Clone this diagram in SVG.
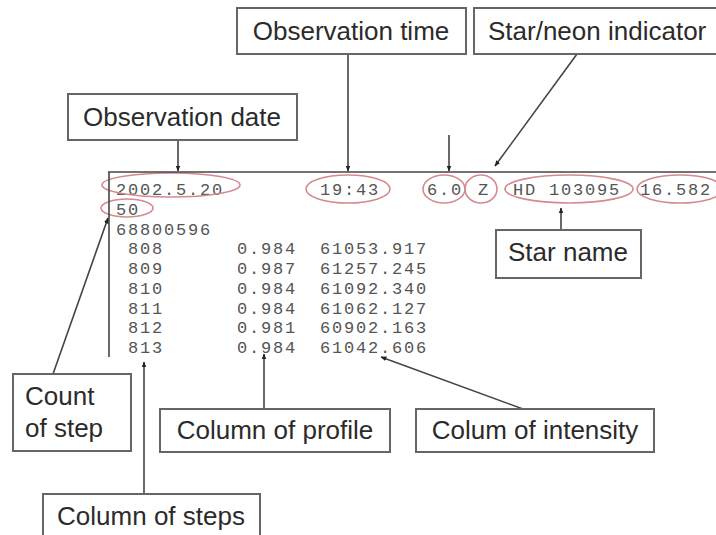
<svg xmlns="http://www.w3.org/2000/svg" width="716" height="535" viewBox="0 0 716 535">
<style>
.box{fill:#fff;stroke:#666;stroke-width:2}
.lbl{font-family:"Liberation Sans",Arial,sans-serif;font-size:26px;fill:#2b2b2b}
.mono{font-family:"Liberation Mono","Courier New",monospace;font-size:17px;letter-spacing:1.8px;fill:#555}
.ell{fill:none;stroke:#d48a8f;stroke-width:1.6}
.con{stroke:#444;stroke-width:1.6;fill:none}
</style>
<defs>
<marker id="ah" viewBox="0 0 10 10" refX="9" refY="5" markerWidth="6" markerHeight="6" orient="auto" markerUnits="userSpaceOnUse">
<path d="M0,1 L10,5 L0,9 z" fill="#222"/>
</marker>
</defs>
<rect width="716" height="535" fill="#fff"/>
<g id="data">
<text class="mono" x="116" y="195">2002.5.20</text>
<text class="mono" x="320" y="195">19:43</text>
<text class="mono" x="427" y="195">6.0</text>
<text class="mono" x="478" y="195">Z</text>
<text class="mono" x="513" y="195">HD 103095</text>
<text class="mono" x="640" y="195">16.582</text>
<text class="mono" x="116" y="214.75">50</text>
<text class="mono" x="116" y="234.5">68800596</text>
<text class="mono" x="128" y="254.25">808</text><text class="mono" x="237" y="254.25">0.984</text><text class="mono" x="320" y="254.25">61053.917</text>
<text class="mono" x="128" y="274">809</text><text class="mono" x="237" y="274">0.987</text><text class="mono" x="320" y="274">61257.245</text>
<text class="mono" x="128" y="293.75">810</text><text class="mono" x="237" y="293.75">0.984</text><text class="mono" x="320" y="293.75">61092.340</text>
<text class="mono" x="128" y="313.5">811</text><text class="mono" x="237" y="313.5">0.984</text><text class="mono" x="320" y="313.5">61062.127</text>
<text class="mono" x="128" y="333.25">812</text><text class="mono" x="237" y="333.25">0.981</text><text class="mono" x="320" y="333.25">60902.163</text>
<text class="mono" x="128" y="353">813</text><text class="mono" x="237" y="353">0.984</text><text class="mono" x="320" y="353">61042.606</text>
<ellipse class="ell" cx="171" cy="185" rx="69" ry="12"/>
<ellipse class="ell" cx="127" cy="208" rx="26" ry="9"/>
<ellipse class="ell" cx="348" cy="189" rx="42" ry="14"/>
<ellipse class="ell" cx="444" cy="189" rx="21" ry="14"/>
<ellipse class="ell" cx="481" cy="189" rx="16" ry="14"/>
<ellipse class="ell" cx="569" cy="189" rx="64" ry="14"/>
<ellipse class="ell" cx="680" cy="189" rx="43" ry="14"/>
</g>
<g id="connectors">
<line class="con" x1="108" y1="172" x2="716" y2="172"/>
<line class="con" x1="109" y1="172" x2="109" y2="357"/>
<line class="con" x1="178" y1="140" x2="178" y2="171" marker-end="url(#ah)"/>
<line class="con" x1="348" y1="54" x2="348" y2="171" marker-end="url(#ah)"/>
<line class="con" x1="449" y1="135" x2="449" y2="171" marker-end="url(#ah)"/>
<line class="con" x1="577" y1="54" x2="495" y2="166" marker-end="url(#ah)"/>
<line class="con" x1="561" y1="230" x2="561" y2="208" marker-end="url(#ah)"/>
<line class="con" x1="53" y1="374" x2="108" y2="218" marker-end="url(#ah)"/>
<line class="con" x1="144" y1="494" x2="144" y2="362" marker-end="url(#ah)"/>
<line class="con" x1="264" y1="409" x2="264" y2="354" marker-end="url(#ah)"/>
<line class="con" x1="523" y1="409" x2="381" y2="357" marker-end="url(#ah)"/>
</g>
<g id="obs-date"><rect class="box" x="68" y="94" width="229" height="46"/><text class="lbl" x="182" y="126" text-anchor="middle">Observation date</text></g>
<g id="obs-time"><rect class="box" x="237" y="8" width="229" height="46"/><text class="lbl" x="351" y="40" text-anchor="middle">Observation time</text></g>
<g id="star-neon"><rect class="box" x="474" y="8" width="250" height="46"/><text class="lbl" x="488" y="40">Star/neon indicator</text></g>
<g id="star-name"><rect class="box" x="496" y="230" width="145" height="48"/><text class="lbl" x="568" y="261" text-anchor="middle">Star name</text></g>
<g id="count-step"><rect class="box" x="13" y="374" width="118" height="77"/><text class="lbl" x="25" y="405">Count</text><text class="lbl" x="25" y="437">of step</text></g>
<g id="col-profile"><rect class="box" x="160" y="409" width="230" height="43"/><text class="lbl" x="275" y="439" text-anchor="middle">Column of profile</text></g>
<g id="col-intensity"><rect class="box" x="416" y="409" width="238" height="43"/><text class="lbl" x="535" y="439" text-anchor="middle">Colum of intensity</text></g>
<g id="col-steps"><rect class="box" x="43" y="494" width="217" height="50"/><text class="lbl" x="151" y="525" text-anchor="middle">Column of steps</text></g>
</svg>
